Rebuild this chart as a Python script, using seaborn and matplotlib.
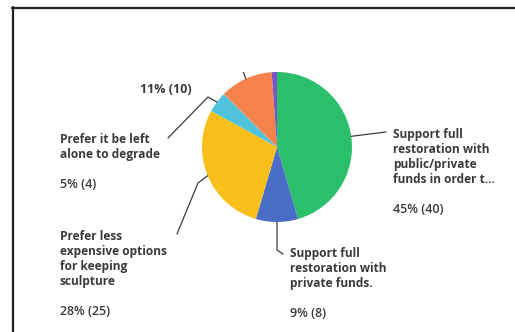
import numpy as np
import matplotlib
matplotlib.use('Agg')
import matplotlib.pyplot as plt
from matplotlib.lines import Line2D
from matplotlib.patches import Rectangle
import seaborn as sns

sns.set_style('white')
plt.rcParams['font.family'] = ['Open Sans', 'DejaVu Sans']

# ── Data ──────────────────────────────────────────────────────────────────
label_lines = [
    ['Support full', 'restoration with', 'public/private', 'funds in order t…'],
    ['Support full', 'restoration with', 'private funds.'],
    ['Prefer less', 'expensive options', 'for keeping', 'sculpture'],
    ['Prefer it be left', 'alone to degrade'],
    [],   # label text cut off in the screenshot
    [],   # label cut off
]
counts = [40, 8, 25, 4, 10, 1]
colors = ['#2bbf6c', '#4a6dc8', '#fbbf1c', '#52c3dc', '#f5824a', '#7b55c2']

# where the label block sits (px, first baseline) and the leader path
label_pos = [(393, 138), (290, 257), (60, 240), (60, 143), (140, 78), None]
leader_pts = [
    [(386, 132)],
    [(277, 250), (283, 254)],
    [(198, 183), (177, 234)],
    [(208, 97), (168, 138)],
    [(239, 60)],
    None,
]

W, H = 515, 332
DPI = 100
LINE = 15
TXT = '#3a3a3a'

fig = plt.figure(figsize=(W / DPI, H / DPI), dpi=DPI)
fig.patch.set_facecolor('white')

# pie: centre (277,147), radius 75 px
ax = fig.add_axes([202 / W, (H - 222) / H, 150 / W, 150 / H])
wedges, _ = ax.pie(counts, colors=colors, startangle=90, counterclock=False,
                   radius=1, wedgeprops=dict(linewidth=0))
ax.set_xlim(-1, 1)
ax.set_ylim(-1, 1)
ax.axis('off')

total = sum(counts)


def fig_xy(px, py):
    return px / W, 1 - py / H


def data_to_px(x, y):
    dx, dy = ax.transData.transform((x, y))
    return dx, H - dy


cum = 0
for i, c in enumerate(counts):
    mid = cum + c / 2
    cum += c
    if label_pos[i] is None:
        continue
    ang = np.deg2rad(90 - 360 * mid / total)
    sx, sy = data_to_px(np.cos(ang), np.sin(ang))
    pts = [(sx, sy)] + leader_pts[i]
    xs = [p[0] / W for p in pts]
    ys = [1 - p[1] / H for p in pts]
    fig.add_artist(Line2D(xs, ys, color='#3c3c3c', lw=0.9, zorder=2))

    lx, ly = label_pos[i]
    for j, line in enumerate(label_lines[i]):
        fig.text(*fig_xy(lx, ly + j * LINE), line, fontsize=8.6,
                 fontweight='bold', color=TXT, va='baseline', ha='left')
    pct = round(100 * c / total)
    n = len(label_lines[i])
    fig.text(*fig_xy(lx, ly + (n + 1) * LINE if n else ly + LINE),
             f'{pct}% ({c})', fontsize=9,
             fontweight='bold' if n == 0 else 'semibold', color=TXT,
             va='baseline', ha='left')

# white overlay clipping the top of the screenshot
fig.add_artist(Rectangle((14 / W, 1 - 72 / H), 1, (72 - 9) / H,
                         transform=fig.transFigure, facecolor='white',
                         edgecolor='none', zorder=5))

# card border
fig.add_artist(Line2D([12.5 / W, 12.5 / W], [0, 1 - 7 / H], color='#222222',
                      lw=1.6, zorder=6))
fig.add_artist(Line2D([12 / W, 1], [1 - 7.5 / H, 1 - 7.5 / H], color='#222222',
                      lw=1.6, zorder=6))

fig.savefig('out.png', dpi=DPI, facecolor='white')
